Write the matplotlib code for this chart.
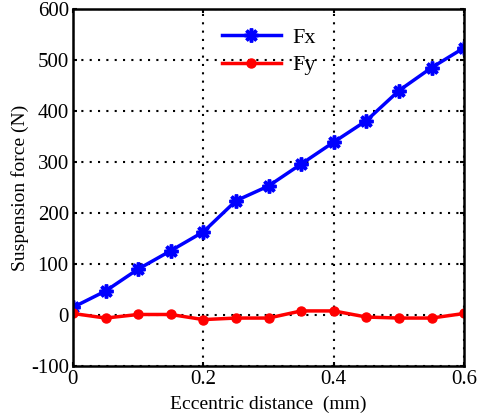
import matplotlib
matplotlib.use("Agg")
import matplotlib.pyplot as plt

x = [0, 0.05, 0.1, 0.15, 0.2, 0.25, 0.3, 0.35, 0.4, 0.45, 0.5, 0.55, 0.6]
fx = [15, 47, 90, 126, 163, 224, 253, 296, 339, 381, 440, 485, 524]
fy = [3, -6, 1, 1, -9, -6, -6, 8, 8, -4, -6, -6, 3]
xticks = [0, 0.2, 0.4, 0.6]
xticklabels = ["0", "0.2", "0.4", "0.6"]
yticks = [-100, 0, 100, 200, 300, 400, 500, 600]

plt.rcParams['font.family'] = ['Liberation Serif', 'DejaVu Serif']
plt.rcParams['axes.unicode_minus'] = False

fig = plt.figure(figsize=(4.83, 4.19), dpi=100)
ax = fig.add_axes([0.151, 0.1265, 0.81, 0.852])

ax.plot(x, fx, color='blue', lw=2.5, marker=(8, 2, 0), ms=10, mew=2.5, label='Fx')
ax.plot(x, fy, color='red', lw=2.5, marker='o', ms=6.5, label='Fy')

ax.set_xlim(0, 0.6)
ax.set_ylim(-100, 600)
ax.set_xticks(xticks)
ax.set_xticklabels(xticklabels)
ax.set_yticks(yticks)
ax.grid(True, color='black', linestyle=(0, (1, 3)), linewidth=1.5)
ax.tick_params(direction='in', labelsize=15, width=1.5, length=3, top=True, right=True, pad=3)
for s in ax.spines.values():
    s.set_linewidth(1.8)
ax.set_xlabel('Eccentric distance  (mm)', fontsize=14, labelpad=5)
ax.set_ylabel('Suspension force (N)', fontsize=14, labelpad=1)
leg = ax.legend(loc='upper left', bbox_to_anchor=(0.33, 1.005), frameon=False,
                fontsize=16, handlelength=2.65, labelspacing=0.32, handletextpad=0.5)

fig.savefig('out.png', dpi=100)
